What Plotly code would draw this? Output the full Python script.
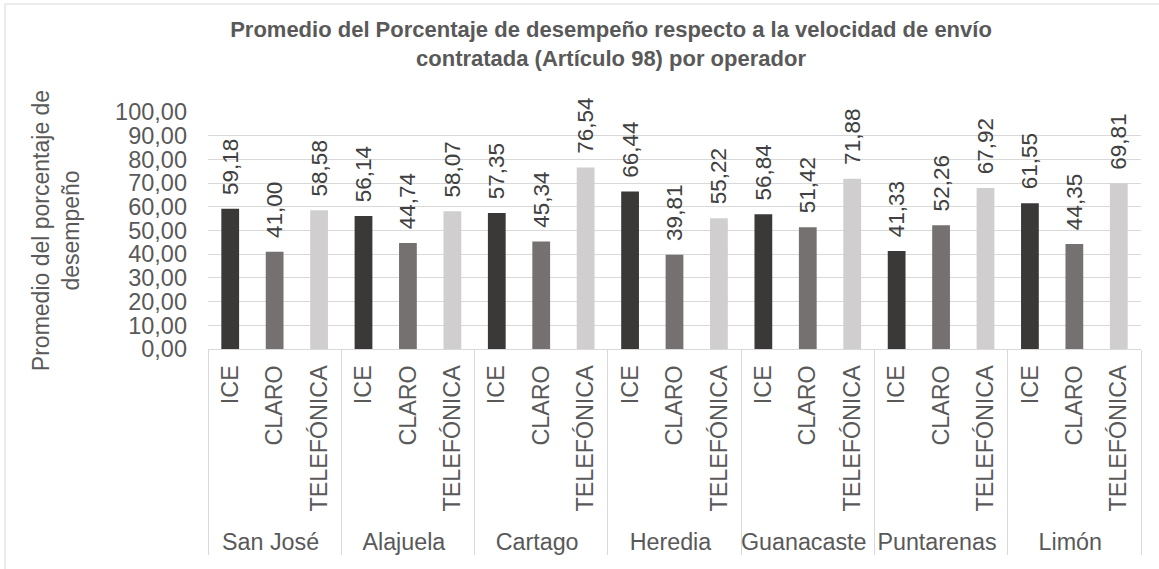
import plotly.graph_objects as go

regions = ["San José", "Alajuela", "Cartago", "Heredia", "Guanacaste", "Puntarenas", "Limón"]
operators = ["ICE", "CLARO", "TELEFÓNICA"]
ice = [59.18, 56.14, 57.35, 66.44, 56.84, 41.33, 61.55]
claro = [41.00, 44.74, 45.34, 39.81, 51.42, 52.26, 44.35]
telefonica = [58.58, 58.07, 76.54, 55.22, 71.88, 67.92, 69.81]
colors = ["#3b3838", "#767171", "#d0cece"]

title_text = ("Promedio del Porcentaje de desempeño respecto a la velocidad de envío<br>"
              "contratada (Artículo 98) por operador")
ytitle = "Promedio del porcentaje de<br>desempeño"

W, H = 1159, 569
L, R, T, B = 208, 18, 112, 220
pw, ph = W - L - R, H - T - B


def px_x(x):
    return (x - L) / pw


def px_y(y):
    return (T + ph - y) / ph


fig = go.Figure()
for op, vals, col in zip(operators, [ice, claro, telefonica], colors):
    fig.add_trace(go.Bar(
        x=[regions, [op] * len(regions)],
        y=vals,
        name=op,
        marker=dict(color=col, line=dict(width=0)),
        width=0.4,
        texttemplate="\u00a0\u2009%{y:.2f}",
        textposition="outside",
        textangle=-90,
        constraintext="none",
        cliponaxis=False,
        textfont=dict(family="Liberation Sans, Arial, sans-serif", size=22.5, color="#404040"),
        showlegend=False,
    ))

fig.update_layout(
    width=W, height=H,
    margin=dict(l=L, r=R, t=T, b=B, autoexpand=False),
    paper_bgcolor="white", plot_bgcolor="white",
    barmode="overlay",
    separators=",.",
    font=dict(family="Liberation Sans, Arial, sans-serif", color="#595959"),
    title=dict(
        text=title_text,
        x=611 / W, xref="container", xanchor="center",
        y=1 - 37 / H, yref="container", yanchor="top",
        font=dict(family="Liberation Sans, Arial, sans-serif",
                  size=22, color="#595959", weight="bold"),
    ),
    shapes=[dict(
        type="rect", xref="paper", yref="paper",
        x0=px_x(5), x1=px_x(1163),
        y0=px_y(580), y1=px_y(4),
        line=dict(color="#d9d9d9", width=1), fillcolor="rgba(0,0,0,0)", layer="below",
    )],
)

fig.update_yaxes(
    range=[0, 100], dtick=10, tickformat=".2f",
    automargin=False,
    showgrid=True, gridcolor="#d9d9d9", gridwidth=1,
    zeroline=False, showline=False,
    tickfont=dict(size=23.5, color="#595959"),
    ticklabelstandoff=20,
    title=dict(text=ytitle, font=dict(size=23, color="#595959"), standoff=29),
)
fig.update_xaxes(
    type="multicategory",
    automargin=False,
    showline=True, linecolor="#d9d9d9", linewidth=1,
    showgrid=False,
    tickangle=-90,
    ticklabelstandoff=6,
    tickfont=dict(size=23.3, color="#595959"),
    showdividers=True, dividercolor="#d9d9d9", dividerwidth=1,
)

fig.write_html("out.html", config={"displayModeBar": False},
               post_script="document.body.style.margin='0';")
